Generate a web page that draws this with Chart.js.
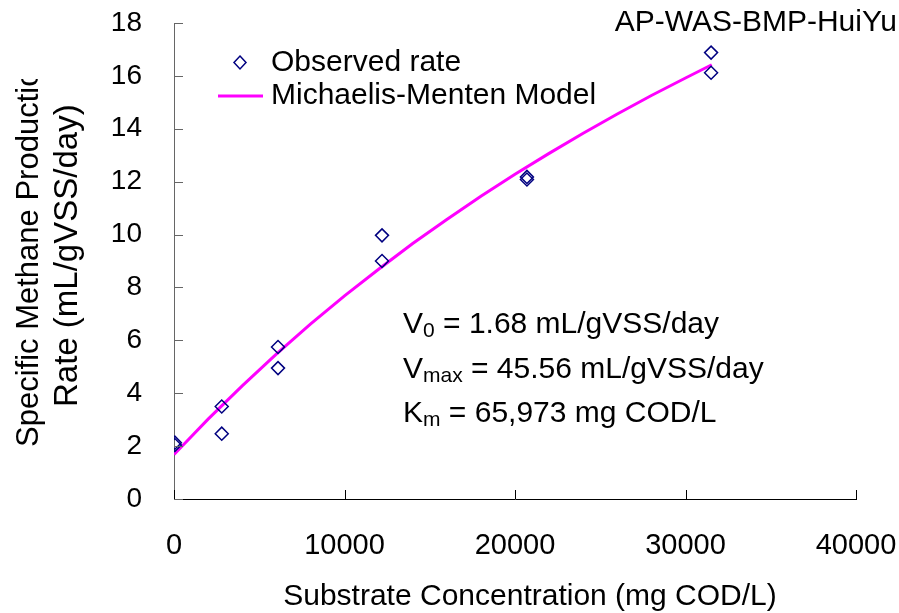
<!DOCTYPE html>
<html>
<head>
<meta charset="utf-8">
<script src="https://cdn.jsdelivr.net/npm/chart.js@4.4.1/dist/chart.umd.min.js"></script>
<style>
  html, body { margin: 0; padding: 0; background: #fff; }
  #wrap { width: 899px; height: 613px; position: relative; }
</style>
</head>
<body>
<div id="wrap"><canvas id="mm-chart" width="899" height="613"></canvas></div>
<script>
// observed rates (substrate mg COD/L vs. mL/gVSS/day)
var obsX = [50, 50, 2800, 2800, 6100, 6100, 12200, 12200, 20700, 20700, 31500, 31500];
var obsY = [2.13, 2.04, 3.5, 2.47, 5.75, 4.95, 9.97, 9.0, 12.18, 12.08, 16.88, 16.12];

// model curve
var modelX = [0, 2000, 4000, 6000, 8000, 10000, 12000, 14000, 16000, 18000, 20000, 22000, 24000, 26000, 28000, 30000, 31540];
var modelY = [1.68, 3.02, 4.28, 5.48, 6.61, 7.68, 8.69, 9.66, 10.57, 11.45, 12.28, 13.07, 13.83, 14.56, 15.26, 15.92, 16.42];

var xTicks = [0, 10000, 20000, 30000, 40000];
var yTicks = [0, 2, 4, 6, 8, 10, 12, 14, 16, 18];

var FONT = '"Liberation Sans", Arial, sans-serif';

function pairs(xs, ys) {
  var out = [];
  for (var i = 0; i < xs.length; i++) out.push({x: xs[i], y: ys[i]});
  return out;
}

// inward tick marks, legend, labels drawn on top
var decorPlugin = {
  id: 'decor',
  afterDraw: function(chart) {
    var ctx = chart.ctx;
    var xs = chart.scales.x, ys = chart.scales.y;
    var area = chart.chartArea;
    ctx.save();
    ctx.lineWidth = 1;
    ctx.strokeStyle = '#666';
    yTicks.forEach(function(v) {
      var py = Math.round(ys.getPixelForValue(v)) + 0.5;
      ctx.beginPath(); ctx.moveTo(area.left, py); ctx.lineTo(area.left + 9, py); ctx.stroke();
    });
    ctx.strokeStyle = '#000';
    xTicks.forEach(function(v) {
      var px = Math.round(xs.getPixelForValue(v)) + 0.5;
      ctx.beginPath(); ctx.moveTo(px, area.bottom); ctx.lineTo(px, area.bottom - 9); ctx.stroke();
    });

    ctx.fillStyle = '#000';
    ctx.textBaseline = 'alphabetic';
    ctx.textAlign = 'left';

    // title
    ctx.font = '30px ' + FONT;
    ctx.textAlign = 'right';
    ctx.fillText('AP-WAS-BMP-HuiYu', 897, 31);
    ctx.textAlign = 'left';

    // legend
    ctx.strokeStyle = '#000080';
    ctx.lineWidth = 1.5;
    ctx.beginPath();
    ctx.moveTo(240, 56); ctx.lineTo(246, 62.5); ctx.lineTo(240, 69); ctx.lineTo(234, 62.5); ctx.closePath();
    ctx.stroke();
    ctx.fillText('Observed rate', 271, 71);
    ctx.strokeStyle = '#ff00ff';
    ctx.lineWidth = 3;
    ctx.beginPath(); ctx.moveTo(218, 96); ctx.lineTo(263, 96); ctx.stroke();
    ctx.fillText('Michaelis-Menten Model', 271, 104);

    // kinetic constants
    function eq(x, y, main, sub, rest) {
      ctx.font = '30px ' + FONT;
      ctx.fillText(main, x, y);
      var w = ctx.measureText(main).width;
      ctx.font = '21px ' + FONT;
      ctx.fillText(sub, x + w, y + 4);
      var w2 = ctx.measureText(sub).width;
      ctx.font = '30px ' + FONT;
      ctx.fillText(rest, x + w + w2, y);
    }
    eq(403, 333, 'V', '0', ' = 1.68 mL/gVSS/day');
    eq(403, 378, 'V', 'max', ' = 45.56 mL/gVSS/day');
    eq(403, 422, 'K', 'm', ' = 65,973 mg COD/L');

    // x axis title
    ctx.font = '30px ' + FONT;
    ctx.textAlign = 'center';
    ctx.fillText('Substrate Concentration (mg COD/L)', 530, 605);

    // y axis title, two lines, top clipped like the original
    ctx.textAlign = 'left';
    ctx.font = '31px ' + FONT;
    ctx.save();
    ctx.beginPath(); ctx.rect(0, 79, 120, 540); ctx.clip();
    ctx.translate(38, 447); ctx.rotate(-Math.PI / 2);
    ctx.fillText('Specific Methane Production', 0, 0);
    ctx.restore();
    ctx.font = '33px ' + FONT;
    ctx.save();
    ctx.translate(77, 407); ctx.rotate(-Math.PI / 2);
    ctx.fillText('Rate (mL/gVSS/day)', 0, 0);
    ctx.restore();

    ctx.restore();
  }
};

var ctx = document.getElementById('mm-chart').getContext('2d');
var chart = new Chart(ctx, {
  type: 'scatter',
  data: {
    datasets: [{
      label: 'Michaelis-Menten Model',
      data: pairs(modelX, modelY),
      showLine: true,
      borderColor: '#ff00ff',
      borderWidth: 3,
      pointRadius: 0,
      tension: 0,
      order: 2
    }, {
      label: 'Observed rate',
      data: pairs(obsX, obsY),
      pointStyle: 'rectRot',
      pointRadius: 6.5,
      borderColor: '#000080',
      backgroundColor: 'rgba(255,255,255,0)',
      borderWidth: 1.5,
      order: 1
    }]
  },
  options: {
    responsive: false,
    animation: false,
    layout: { padding: { left: 0, top: 23, right: 43, bottom: 0 } },
    plugins: { legend: { display: false }, tooltip: { enabled: false } },
    scales: {
      x: {
        type: 'linear', min: 0, max: 40000,
        afterBuildTicks: function(s) { s.ticks = xTicks.map(function(v) { return {value: v}; }); },
        afterFit: function(s) { s.height = 114; s.paddingLeft = 0; s.paddingRight = 0; },
        grid: { display: true, drawOnChartArea: false, drawTicks: false },
        border: { display: true, color: '#000', width: 1 },
        ticks: { color: '#000', font: { family: FONT, size: 29 }, padding: 30, maxRotation: 0,
                 callback: function(v) { return String(v); } }
      },
      y: {
        type: 'linear', min: 0, max: 18,
        afterBuildTicks: function(s) { s.ticks = yTicks.map(function(v) { return {value: v}; }); },
        afterFit: function(s) { s.width = 174; s.paddingTop = 0; s.paddingBottom = 0; },
        grid: { display: true, drawOnChartArea: false, drawTicks: false },
        border: { display: true, color: '#666', width: 1 },
        ticks: { color: '#000', font: { family: FONT, size: 28 }, padding: 32 }
      }
    }
  },
  plugins: [decorPlugin]
});
</script>
</body>
</html>
